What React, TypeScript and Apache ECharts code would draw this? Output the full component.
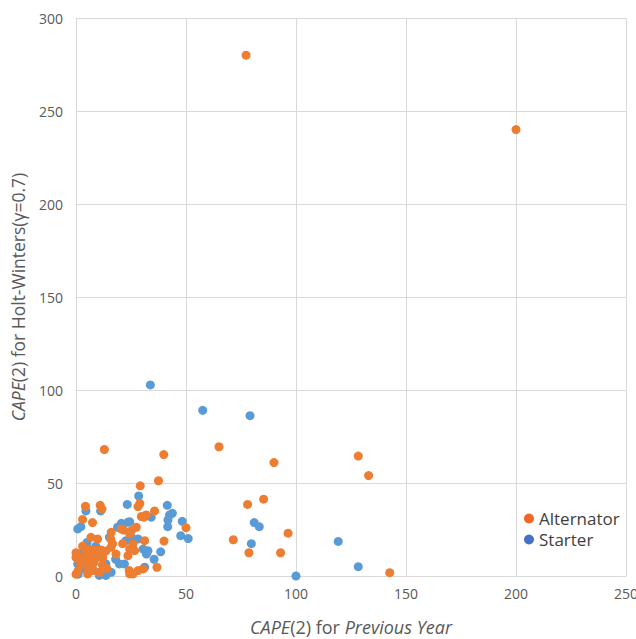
import React, { useEffect, useRef } from 'react';
import * as echarts from 'echarts';

const seriesNames = ['Alternator', 'Starter'];
const xTicks = [0, 50, 100, 150, 200, 250];
const yTicks = [0, 50, 100, 150, 200, 250, 300];

const alternatorX = [77.3, 200, 65, 12.9, 39.9, 90, 128.3, 133, 37.5, 29.2, 78, 85.3, 50, 71.5, 78.6, 96.4, 93, 142.6,
  29, 28.2, 35.7, 29.7, 31.9, 30.9, 27.4, 40, 36.8, 4.3, 11, 11.8, 3, 7.5, 21.7, 16, 15.8, 31.2, 25.9, 24.4, 26.6, 23.6,
  30.5, 28.2, 25.9, 24.4, 25.2, 24.4, 20.5, 6.8, 9.8, 16.6, 21.2, 4.5, 6.8, 9.1, 11.4, 13.6, 0, 2.3, 4.5, 6.8, 9.1, 12.1,
  15.9, 18.2, 0, 5.3, 7.6, 10.6, 24.2, 0, 2, 5, 12, 8, 3, 1, 14, 5.5];
const alternatorY = [280, 240, 69.5, 68, 65.3, 61, 64.5, 54, 51.2, 48.5, 38.5, 41.3, 26, 19.5, 12.5, 23, 12.5, 1.8,
  39, 37.3, 35, 32, 32.8, 31.6, 26.2, 18.8, 4.7, 37.5, 38, 36, 30.4, 28.7, 24.7, 23.5, 19.9, 19, 17.2, 14.5, 13.6, 10.9,
  3.8, 2.9, 1.1, 1.1, 24.4, 22.6, 25.3, 20.8, 19.9, 17.4, 17.4, 14, 14.2, 13.8, 14, 13.5, 10, 9.8, 10.2, 10.5, 9.6, 9.8,
  15.4, 11.8, 1, 1.1, 2.9, 2, 2.9, 12.5, 7, 5, 6, 7, 16, 3, 4, 7.5];

const starterX = [33.8, 57.6, 79.1, 81, 83.3, 79.7, 119.2, 128.3, 100, 48.3, 47.6, 51, 28.5, 23.3, 41.5, 42.5, 43.8, 41.7,
  34.2, 41.8, 24.4, 38.5, 31.2, 4.5, 11.2, 2.2, 20.6, 23.6, 25.2, 28.2, 30.5, 32, 32.7, 0.8, 15.2, 18.9, 22.7, 0.8, 13.6,
  19.7, 6, 10.6, 13.6, 22, 1, 3, 8, 16, 12, 18, 5, 9, 2, 35.5];
const starterY = [102.7, 89.1, 86.2, 28.7, 26.5, 17.4, 18.6, 5, 0, 29.4, 21.7, 20.1, 43, 38.5, 38, 32.8, 33.7, 26.5,
  31.6, 30.1, 29.2, 13, 4.7, 35, 35, 26.5, 28.3, 28.9, 20.8, 19.9, 14.5, 11.8, 13.6, 25.3, 20.8, 26.2, 19, 6.5, 6.5,
  6.5, 5.5, 0.3, 0.3, 6.5, 1, 4, 3, 2, 12, 9, 18, 16, 12, 9];

const orange = '#ED7D31';
const blue = '#5B9BD5';
const font = '"Open Sans", Lato, sans-serif';

export default function App() {
  const ref = useRef<HTMLDivElement>(null);
  useEffect(() => {
    const chart = echarts.init(ref.current!, null, { renderer: 'svg' });
    const alt = alternatorX.map((x, i) => [x, alternatorY[i]]);
    const sta = starterX.map((x, i) => [x, starterY[i]]);
    chart.setOption({
      animation: false,
      backgroundColor: '#ffffff',
      grid: { left: 76, right: 10, top: 18, bottom: 63, containLabel: false, outerBoundsMode: 'none' },
      xAxis: {
        type: 'value',
        min: xTicks[0],
        max: xTicks[xTicks.length - 1],
        interval: xTicks[1] - xTicks[0],
        axisLine: { show: true, lineStyle: { color: '#D9D9D9' } },
        axisTick: { show: false },
        splitLine: { show: true, lineStyle: { color: '#D9D9D9' } },
        axisLabel: { color: '#595959', fontSize: 14, fontFamily: font, margin: 10 },
        name: '{i|CAPE}(2) for {i|Previous Year}',
        nameLocation: 'middle',
        nameGap: 42,
        nameTextStyle: {
          color: '#595959', fontSize: 18, fontFamily: font,
          rich: { i: { fontStyle: 'italic', color: '#595959', fontSize: 18, fontFamily: font } },
        },
      },
      yAxis: {
        type: 'value',
        min: yTicks[0],
        max: yTicks[yTicks.length - 1],
        interval: yTicks[1] - yTicks[0],
        axisLine: { show: true, lineStyle: { color: '#D9D9D9' } },
        axisTick: { show: false },
        splitLine: { show: true, lineStyle: { color: '#D9D9D9' } },
        axisLabel: { color: '#595959', fontSize: 14, fontFamily: font, margin: 13 },
        name: '{i|CAPE}(2) for Holt-Winters(γ=0.7)',
        nameLocation: 'middle',
        nameGap: 49,
        nameRotate: 90,
        nameTextStyle: {
          color: '#595959', fontSize: 17.5, fontFamily: font,
          rich: { i: { fontStyle: 'italic', color: '#595959', fontSize: 17.5, fontFamily: font } },
        },
      },
      legend: {
        orient: 'vertical',
        left: 519,
        top: 505,
        itemGap: 4,
        itemWidth: 10,
        itemHeight: 10,
        icon: 'circle',
        textStyle: { color: '#404040', fontSize: 17, fontFamily: font },
        data: [
          { name: seriesNames[0], itemStyle: { color: '#F26522' } },
          { name: seriesNames[1], itemStyle: { color: '#4472C4' } },
        ],
      },
      series: [
        {
          name: seriesNames[1], type: 'scatter', data: sta, symbolSize: 9,
          itemStyle: { color: blue, opacity: 1 },
        },
        {
          name: seriesNames[0], type: 'scatter', data: alt, symbolSize: 9,
          itemStyle: { color: orange, opacity: 1 },
        },
      ],
    });
    return () => chart.dispose();
  }, []);
  return <div ref={ref} style={{ position: 'fixed', left: 0, top: 0, width: 636, height: 639 }} />;
}
